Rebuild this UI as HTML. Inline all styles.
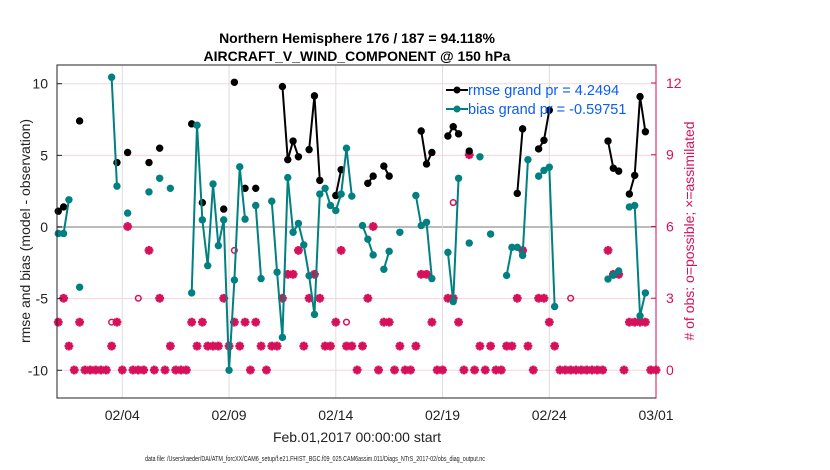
<!DOCTYPE html>
<html><head><meta charset="utf-8">
<style>
html,body{margin:0;padding:0;background:#fff;}
svg{display:block;font-family:"Liberation Sans",Arial,sans-serif;}
</style></head>
<body>
<svg id="chart" width="830" height="470" viewBox="0 0 830 470">
<text x="357" y="43" font-size="14" font-weight="bold" text-anchor="middle">Northern Hemisphere 176 / 187 = 94.118%</text>
<text x="357" y="61" font-size="14" font-weight="bold" text-anchor="middle">AIRCRAFT_V_WIND_COMPONENT @ 150 hPa</text>
<g id="grid"></g>
<g id="marks"></g>
<rect x="57" y="65" width="599" height="333" fill="none" stroke="#222" stroke-width="1"/>
<line x1="656" y1="65" x2="656" y2="398" stroke="#d6105a" stroke-width="1"/>
<g id="axes"></g>
<text transform="translate(30,231) rotate(-90)" font-size="14" text-anchor="middle" fill="#222">rmse and bias (model - observation)</text>
<text transform="translate(694,231) rotate(-90)" font-size="14" text-anchor="middle" fill="#d6105a"># of obs: o=possible; ×=assimilated</text>
<text x="357" y="442" font-size="14" text-anchor="middle" fill="#222">Feb.01,2017 00:00:00 start</text>
<text x="145" y="461" font-size="7" textLength="340" lengthAdjust="spacingAndGlyphs" fill="#222">data file: /Users/raeder/DAI/ATM_forcXX/CAM6_setup/f.e21.FHIST_BGC.f09_025.CAM6assim.011/Diags_NTrS_2017-02/obs_diag_output.nc</text>
<g>
<line x1="446" y1="90" x2="468" y2="90" stroke="#000" stroke-width="2"/>
<circle cx="457" cy="90" r="3.5" fill="#000"/>
<text x="468" y="95" font-size="14.5" fill="#0a5cf5">rmse grand pr = 4.2494</text>
<line x1="446" y1="109" x2="468" y2="109" stroke="#008080" stroke-width="2"/>
<circle cx="457" cy="109" r="3.5" fill="#008080"/>
<text x="468" y="114" font-size="14.5" fill="#0a5cf5">bias grand pr = -0.59751</text>
</g>
</svg>
<script>
const N = 113;
function series(pairs){const a=new Array(N).fill(null);for(const [i,v] of pairs)a[i]=v;return a;}
const rmseValues = series([[0,1.1],[1,1.4],[4,7.4],[11,4.5],[13,5.2],[17,4.5],[19,5.5],[25,7.2],[27,1.7],[31,1.25],[33,10.1],[35,2.7],[37,2.7],[42,9.8],[43,4.7],[44,6.0],[45,4.9],[47,5.4],[48,9.15],[49,3.25],[52,2.2],[53,4.0],[58,3.05],[59,3.55],[61,4.25],[62,3.55],[68,6.7],[69,4.4],[70,5.2],[73,6.35],[74,7.0],[75,6.5],[77,5.3],[86,2.35],[87,6.85],[90,5.45],[91,6.05],[92,8.15],[103,6.0],[104,4.1],[105,3.9],[107,2.3],[108,3.6],[109,9.1],[110,6.65]]);
const biasValues = series([[0,-0.45],[1,-0.45],[2,1.9],[4,-4.2],[10,10.45],[11,2.85],[13,0.97],[17,2.45],[19,3.4],[21,2.7],[25,-4.6],[26,7.1],[27,0.5],[28,-2.7],[29,3.0],[30,-1.3],[31,0.5],[32,-10],[33,-3.7],[34,4.2],[35,0.55],[37,1.5],[38,-3.6],[40,1.8],[41,-3.15],[42,-7.7],[43,3.45],[44,-0.37],[45,0.25],[46,-1.25],[47,-3.4],[48,-6.1],[49,2.3],[50,2.7],[51,1.5],[52,1.15],[53,2.3],[54,5.5],[55,2.15],[57,0.1],[58,-0.85],[59,-1.95],[61,-2.95],[62,-1.7],[64,-0.37],[67,2.2],[68,0.1],[69,0.33],[70,-3.6],[73,-1.77],[74,-5.2],[75,3.4],[77,-1.12],[79,4.9],[81,-0.49],[84,-3.38],[85,-1.42],[86,-1.42],[87,-1.98],[88,4.7],[90,3.55],[91,3.95],[92,4.17],[93,-5.55],[103,-3.63],[104,-3.35],[105,-3.07],[107,1.4],[108,1.5],[109,-6.2],[110,-4.6]]);
const assimCounts = series([[0,2],[1,3],[2,1],[3,0],[4,2],[5,0],[6,0],[7,0],[8,0],[9,0],[10,1],[11,2],[12,0],[13,6],[14,0],[15,0],[16,0],[17,5],[18,0],[19,3],[20,0],[21,1],[22,0],[23,0],[24,0],[25,2],[26,1],[27,2],[28,1],[29,1],[30,1],[31,3],[32,1],[33,2],[34,1],[35,2],[36,0],[37,2],[38,1],[39,0],[40,1],[41,1],[42,3],[43,4],[44,4],[45,5],[46,1],[47,3],[48,4],[49,3],[50,1],[51,1],[52,2],[53,5],[54,1],[55,1],[56,0],[57,1],[58,3],[59,6],[60,0],[61,2],[62,2],[63,0],[64,1],[65,0],[66,0],[67,1],[68,4],[69,4],[70,2],[71,0],[72,0],[73,3],[74,3],[75,2],[76,0],[77,9],[78,0],[79,1],[80,0],[81,1],[82,0],[83,0],[84,1],[85,1],[86,3],[87,5],[88,1],[89,0],[90,3],[91,3],[92,2],[93,1],[94,0],[95,0],[96,0],[97,0],[98,0],[99,0],[100,0],[101,0],[102,0],[103,5],[104,4],[105,4],[106,0],[107,2],[108,2],[109,2],[110,2],[111,0],[112,0]]);
const possibleOnly = series([[10,2],[15,3],[33,5],[54,2],[74,7],[96,3]]);
const leftTicks = [10,5,0,-5,-10];
const rightTicks = [12,9,6,3,0];
const xTickLabels = ["02/04","02/09","02/14","02/19","02/24","03/01"];
const xTickDays = [3,8,13,18,23,28];

const NS="http://www.w3.org/2000/svg";
function X(day){return 58.25+21.35*day;}
function XI(i){return X(i/4);}
function YL(v){return 227-14.33*v;}
function YR(c){return 370-23.92*c;}
function mk(tag,attrs,parent){const e=document.createElementNS(NS,tag);for(const k in attrs)e.setAttribute(k,attrs[k]);parent.appendChild(e);return e;}
const grid=document.getElementById('grid'),marks=document.getElementById('marks'),axes=document.getElementById('axes');

leftTicks.forEach(v=>{
  const y=YL(v);
  const g=mk('line',{x1:57,x2:656,y1:y,y2:y,stroke:v===0?'#bbb':'#f6d3df','stroke-width':v===0?2:1},grid);
  
  
  const t=mk('text',{x:48,y:y+5,'font-size':14,'text-anchor':'end',fill:'#222'},axes);
  t.textContent=String(v);
  
  
  const tk=mk('line',{x1:57,x2:62,y1:y,y2:y,stroke:'#222'},axes);
  
  
});
rightTicks.forEach(c=>{
  const y=YR(c);
  const t=mk('text',{x:666,y:y+5,'font-size':14,fill:'#d6105a'},axes);
  t.textContent=String(c);
  
  
  const tk=mk('line',{x1:651,x2:656,y1:y,y2:y,stroke:'#d6105a'},axes);
  
  
});
xTickDays.forEach((d,k)=>{
  const x=X(d);
  const g=mk('line',{x1:x,x2:x,y1:65,y2:398,stroke:'#ddd','stroke-width':1},grid);
  
  
  const t=mk('text',{x:x,y:420,'font-size':14,'text-anchor':'middle',fill:'#222'},axes);
  t.textContent=xTickLabels[k];
  
  
});

function drawSeries(vals,color,name){
  for(let i=0;i<N-1;i++){
    if(vals[i]!==null&&vals[i+1]!==null){
      const l=mk('line',{x1:XI(i),y1:YL(vals[i]),x2:XI(i+1),y2:YL(vals[i+1]),stroke:color,'stroke-width':2},marks);
      
      
    }
  }
  vals.forEach((v,i)=>{
    if(v===null)return;
    const c=mk('circle',{cx:XI(i),cy:YL(v),r:3.7,fill:color},marks);
    
    
  });
}
function star(x,y){
  const g=mk('g',{stroke:'#d6105a','stroke-width':2.6,fill:'none'},marks);
  
  
  const r=4.4;
  mk('line',{x1:x-r,y1:y,x2:x+r,y2:y},g);
  mk('line',{x1:x,y1:y-r,x2:x,y2:y+r},g);
  mk('line',{x1:x-3.1,y1:y-3.1,x2:x+3.1,y2:y+3.1},g);
  mk('line',{x1:x-3.1,y1:y+3.1,x2:x+3.1,y2:y-3.1},g);
}
assimCounts.forEach((c,i)=>{if(c!==null)star(XI(i),YR(c));});
possibleOnly.forEach((c,i)=>{
  if(c===null)return;
  const o=mk('circle',{cx:XI(i),cy:YR(c),r:2.8,fill:'none',stroke:'#d6105a','stroke-width':1.5},marks);
  
  
});
drawSeries(rmseValues,'#000','rmse');
drawSeries(biasValues,'#008080','bias');
</script>
</body></html>
